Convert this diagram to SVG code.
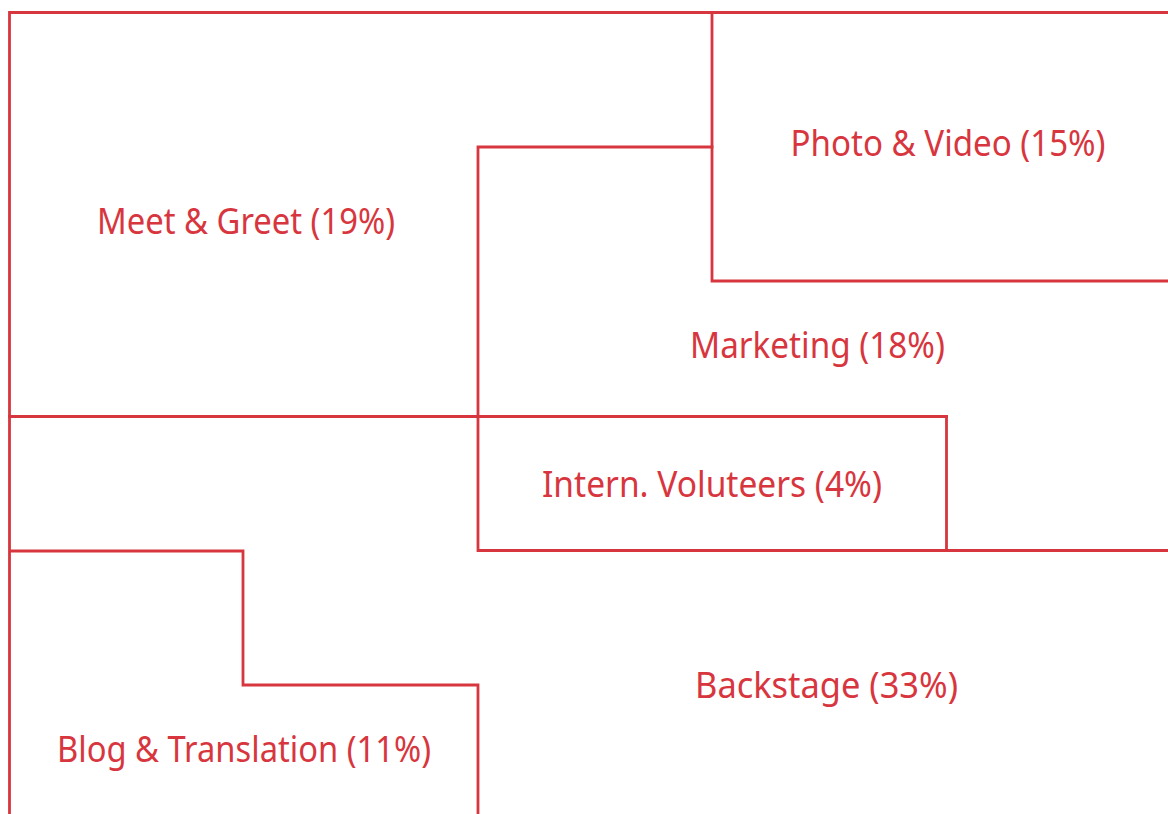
<svg xmlns="http://www.w3.org/2000/svg" width="1168" height="814" viewBox="0 0 1168 814">
<style>
.ln{fill:none;stroke:#d8363e;stroke-width:2.8;stroke-linecap:square;stroke-linejoin:miter}
.lb{fill:#d8363e;font-family:"Noto Sans","Open Sans","Liberation Sans",sans-serif;font-size:36px;text-anchor:middle}
</style>
<rect width="1168" height="814" fill="#ffffff"/>
<g id="meet-greet">
<path class="ln" d="M9.5,416.5 V12.5 H712 M478,147 H712 M478,147 V416.5 M9.5,416.5 H478"/>
<text class="lb" x="246" y="234" textLength="298" lengthAdjust="spacingAndGlyphs">Meet &amp; Greet (19%)</text>
</g>
<g id="photo-video">
<path class="ln" d="M712,12.5 H1170 M712,12.5 V281 H1170"/>
<text class="lb" x="948" y="156" textLength="315" lengthAdjust="spacingAndGlyphs">Photo &amp; Video (15%)</text>
</g>
<g id="marketing">
<path class="ln" d="M478,416.5 H946.5 M946.5,550.5 H1170"/>
<text class="lb" x="817.5" y="358" textLength="255" lengthAdjust="spacingAndGlyphs">Marketing (18%)</text>
</g>
<g id="intern-volunteers">
<path class="ln" d="M478,416.5 H946.5 V550.5 H478 Z"/>
<text class="lb" x="712" y="497" textLength="340" lengthAdjust="spacingAndGlyphs">Intern. Voluteers (4%)</text>
</g>
<g id="blog-translation">
<path class="ln" d="M9.5,416.5 V816 M9.5,551 H243 V685 H478 V816"/>
<text class="lb" x="244" y="762" textLength="374" lengthAdjust="spacingAndGlyphs">Blog &amp; Translation (11%)</text>
</g>
<g id="backstage">
<text class="lb" x="826.5" y="698" textLength="263" lengthAdjust="spacingAndGlyphs">Backstage (33%)</text>
</g>
</svg>
